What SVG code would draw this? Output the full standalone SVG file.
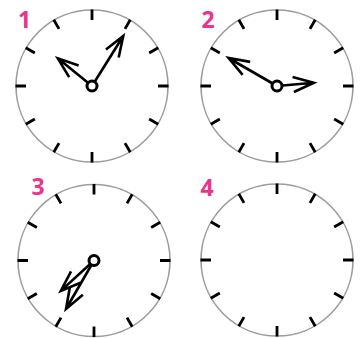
<svg xmlns="http://www.w3.org/2000/svg" xmlns:xlink="http://www.w3.org/1999/xlink" width="360" height="338" viewBox="0 0 360 338">
<style>
.rim{fill:#fff;stroke:#9c9c9c;stroke-width:1.6}
.ticks{fill:none;stroke:#000;stroke-width:2.8}
.hand{fill:none;stroke:#000;stroke-width:2.6;stroke-linejoin:miter;stroke-linecap:butt}
.hub{fill:#fff;stroke:#000;stroke-width:3}
.num{font-family:"Open Sans","DejaVu Sans",sans-serif;font-weight:bold;font-size:23px;fill:#e8348c;text-anchor:middle}
</style>
<defs>
<g id="face">
<circle class="rim" r="76"/>
<path class="ticks" d="M0,-66V-76.5M33,-57.16L38.25,-66.25M57.16,-33L66.25,-38.25M66,0H76.5M57.16,33L66.25,38.25M33,57.16L38.25,66.25M0,66V76.5M-33,57.16L-38.25,66.25M-57.16,33L-66.25,38.25M-66,0H-76.5M-57.16,-33L-66.25,-38.25M-33,-57.16L-38.25,-66.25"/>
</g>
</defs>
<g id="clock1" transform="translate(92,86)">
<use xlink:href="#face"/>
<path class="hand" transform="rotate(32)" d="M0,0V-59M-7.5,-38.3L0,-59L7.5,-38.3"/>
<path class="hand" transform="rotate(309)" d="M0,0V-44M-7.5,-23.3L0,-44L7.5,-23.3"/>
<circle class="hub" r="5"/>
</g>
<g id="clock2" transform="translate(277,86)">
<use xlink:href="#face"/>
<path class="hand" transform="rotate(300)" d="M0,0V-56M-7.5,-35.3L0,-56L7.5,-35.3"/>
<path class="hand" transform="rotate(85)" d="M0,0V-37M-7.5,-16.3L0,-37L7.5,-16.3"/>
<circle class="hub" r="5"/>
</g>
<g id="clock3" transform="translate(94,260.5)">
<use xlink:href="#face"/>
<path class="hand" transform="rotate(210)" d="M0,0V-56M-7.5,-35.3L0,-56L7.5,-35.3"/>
<path class="hand" transform="rotate(227.5)" d="M0,0V-45M-7.5,-24.3L0,-45L7.5,-24.3"/>
<circle class="hub" r="5"/>
</g>
<g id="clock4" transform="translate(277,260)">
<use xlink:href="#face"/>
</g>
<g id="labels">
<text class="num" x="24.5" y="28">1</text>
<text class="num" x="208" y="28">2</text>
<text class="num" x="38" y="195">3</text>
<text class="num" x="207" y="196">4</text>
</g>
</svg>
